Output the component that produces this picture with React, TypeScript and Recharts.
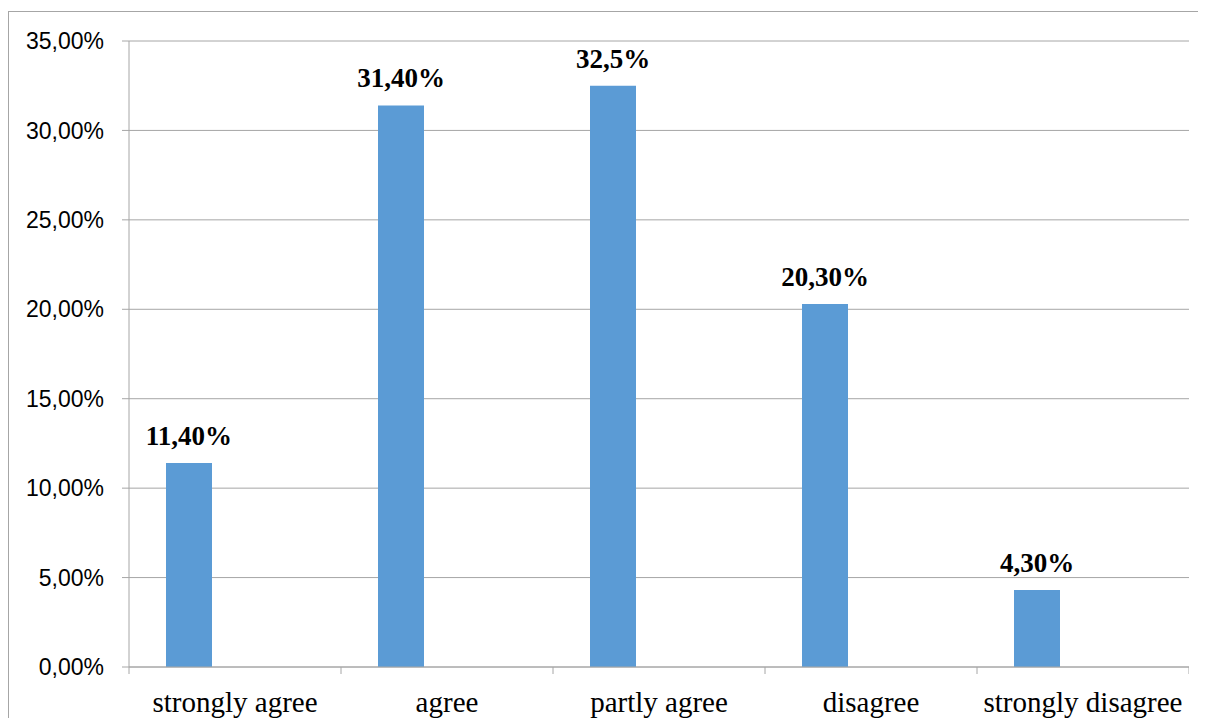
import React from 'react';
import { BarChart, Bar, XAxis, YAxis, CartesianGrid, LabelList } from 'recharts';

const categories = ['strongly agree', 'agree', 'partly agree', 'disagree', 'strongly disagree'];
const percentValues = [0.114, 0.314, 0.325, 0.203, 0.043];
const valueLabels = ['11,40%', '31,40%', '32,5%', '20,30%', '4,30%'];
const emptySeries2 = [null, null, null, null, null];
const emptySeries3 = [null, null, null, null, null];
const yTicks = [0, 0.05, 0.1, 0.15, 0.2, 0.25, 0.3, 0.35];

const data = categories.map((c, i) => ({
  name: c,
  v: percentValues[i],
  label: valueLabels[i],
  s2: emptySeries2[i],
  s3: emptySeries3[i],
}));

const GRID = '#a6a6a6';
const TICK_SIZE = 7;
const TICK_MARGIN = 10;

const fmtY = (v: number) => (v * 100).toFixed(2).replace('.', ',') + '%';

function XTick(props: any) {
  const { x, y, payload, index, visibleTicksCount } = props;
  const off = payload && typeof payload.offset === 'number' ? payload.offset : 0;
  const axisY = y - TICK_SIZE - TICK_MARGIN;
  return (
    <g>
      <line x1={x - off} x2={x - off} y1={axisY} y2={axisY + TICK_SIZE} stroke={GRID} strokeWidth={1} />
      {index === visibleTicksCount - 1 && (
        <line x1={x + off} x2={x + off} y1={axisY} y2={axisY + TICK_SIZE} stroke={GRID} strokeWidth={1} />
      )}
      <text
        x={x}
        y={axisY + 45}
        textAnchor="middle"
        fontFamily="'Liberation Serif', 'Times New Roman', serif"
        fontSize={29}
        fill="#000"
      >
        {payload.value}
      </text>
    </g>
  );
}

export default function App() {
  return (
    <div style={{ position: 'relative', width: 1190, height: 710 }}>
      <svg
        width={1198}
        height={715}
        style={{ position: 'absolute', left: 0, top: 3, overflow: 'hidden' }}
      >
        <line x1={0} x2={1198} y1={0.5} y2={0.5} stroke={GRID} strokeWidth={1} />
        <line x1={0.5} x2={0.5} y1={0} y2={715} stroke={GRID} strokeWidth={1} />
      </svg>
      <div style={{ position: 'absolute', left: 1, top: 4 }}>
        <BarChart
          width={1180}
          height={710}
          data={data}
          margin={{ top: 29, right: 0, left: 0, bottom: 0 }}
          barGap={0}
          barSize={46}
        >
          <CartesianGrid vertical={false} stroke={GRID} />
          <XAxis
            dataKey="name"
            height={55}
            axisLine={{ stroke: GRID }}
            tickLine={false}
            tickSize={TICK_SIZE}
            tickMargin={TICK_MARGIN}
            interval={0}
            tick={<XTick />}
          />
          <YAxis
            width={120}
            domain={[0, 0.35]}
            ticks={yTicks}
            interval={0}
            tickFormatter={fmtY}
            axisLine={{ stroke: GRID }}
            tickLine={{ stroke: GRID }}
            tickSize={TICK_SIZE}
            tickMargin={18}
            tick={{ fontFamily: "'Liberation Sans', Arial, sans-serif", fontSize: 23, fill: '#000' }}
          />
          <Bar dataKey="v" fill="#5b9bd5" isAnimationActive={false}>
            <LabelList
              dataKey="label"
              position="top"
              offset={18}
              style={{
                fontFamily: "'Liberation Serif', 'Times New Roman', serif",
                fontWeight: 'bold',
                fontSize: 27,
                fill: '#000',
              }}
            />
          </Bar>
          <Bar dataKey="s2" fill="#ed7d31" isAnimationActive={false} />
          <Bar dataKey="s3" fill="#a5a5a5" isAnimationActive={false} />
        </BarChart>
      </div>
    </div>
  );
}
